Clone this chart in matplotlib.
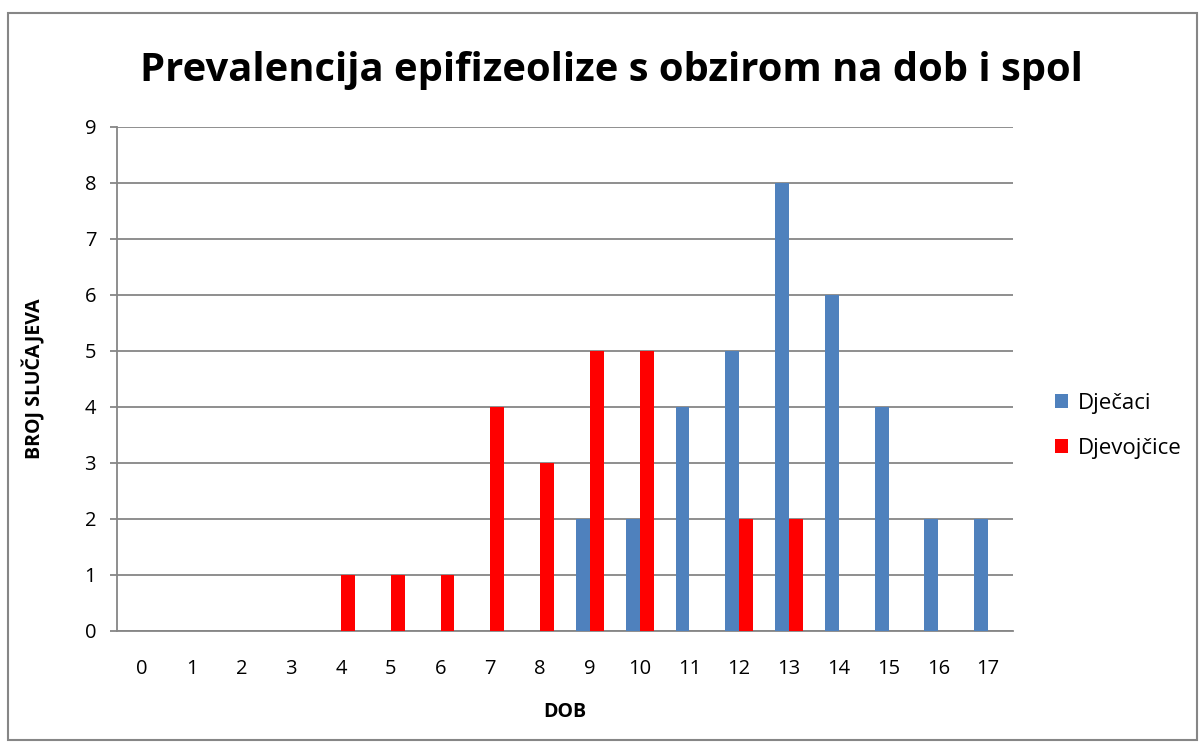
import matplotlib
matplotlib.use("Agg")
import matplotlib.pyplot as plt
import numpy as np
from matplotlib.patches import Rectangle

ages = list(range(18))
djecaci = [0, 0, 0, 0, 0, 0, 0, 0, 0, 2, 2, 4, 5, 8, 6, 4, 2, 2]
djevojcice = [0, 0, 0, 0, 1, 1, 1, 4, 3, 5, 5, 0, 2, 2, 0, 0, 0, 0]
yticks = list(range(10))

W, H = 1204, 746
fig = plt.figure(figsize=(W / 100, H / 100), dpi=100)
fam = ["Open Sans", "DejaVu Sans"]

ax = fig.add_axes([117 / W, 1 - 631 / H, (1013 - 117) / W, (631 - 127) / H])
x = np.arange(len(ages))
bw = 0.28
ax.bar(x - bw / 2, djecaci, bw, color="#4F81BD", label="Dječaci", zorder=3)
ax.bar(x + bw / 2, djevojcice, bw, color="#FF0000", label="Djevojčice", zorder=3)
ax.set_xlim(-0.5, len(ages) - 0.5)
ax.set_ylim(0, 9)
ax.set_yticks(yticks)
ax.set_yticklabels([str(v) for v in yticks], fontsize=14.5, family=fam)
ax.set_xticks(x)
ax.set_xticklabels([str(a) for a in ages], fontsize=14.5, family=fam)
ax.yaxis.grid(True, color="#868686", linewidth=1.3, zorder=0)
for s in ["top", "right"]:
    ax.spines[s].set_visible(False)
for s in ["left", "bottom"]:
    ax.spines[s].set_color("#868686")
    ax.spines[s].set_linewidth(1.3)
ax.tick_params(axis="y", length=5, color="#868686", width=1.3, pad=10)
ax.tick_params(axis="x", length=0, pad=20)
ax.set_xlabel("DOB", fontsize=14, fontweight="bold", family=fam, labelpad=17)
ax.set_ylabel("BROJ SLUČAJEVA", fontsize=14, fontweight="bold", family=fam, labelpad=28)

fig.text(611 / W, 1 - 70 / H, "Prevalencija epifizeolize s obzirom na dob i spol",
         ha="center", va="center", fontsize=28.8, fontweight="bold", family=fam)

leg = ax.legend(loc="center left", bbox_to_anchor=(1055 / W, 1 - 426 / H),
                bbox_transform=fig.transFigure, frameon=False,
                prop={"family": fam, "size": 16}, handlelength=0.6, handleheight=0.6,
                labelspacing=1.1, handletextpad=0.45, borderpad=0, borderaxespad=0)

fig.patches.append(Rectangle((8 / W, 1 - 740 / H), (1197 - 8) / W, (740 - 13) / H,
                             transform=fig.transFigure, fill=False,
                             edgecolor="#868686", linewidth=1.5))

fig.savefig("out.png", dpi=100)
